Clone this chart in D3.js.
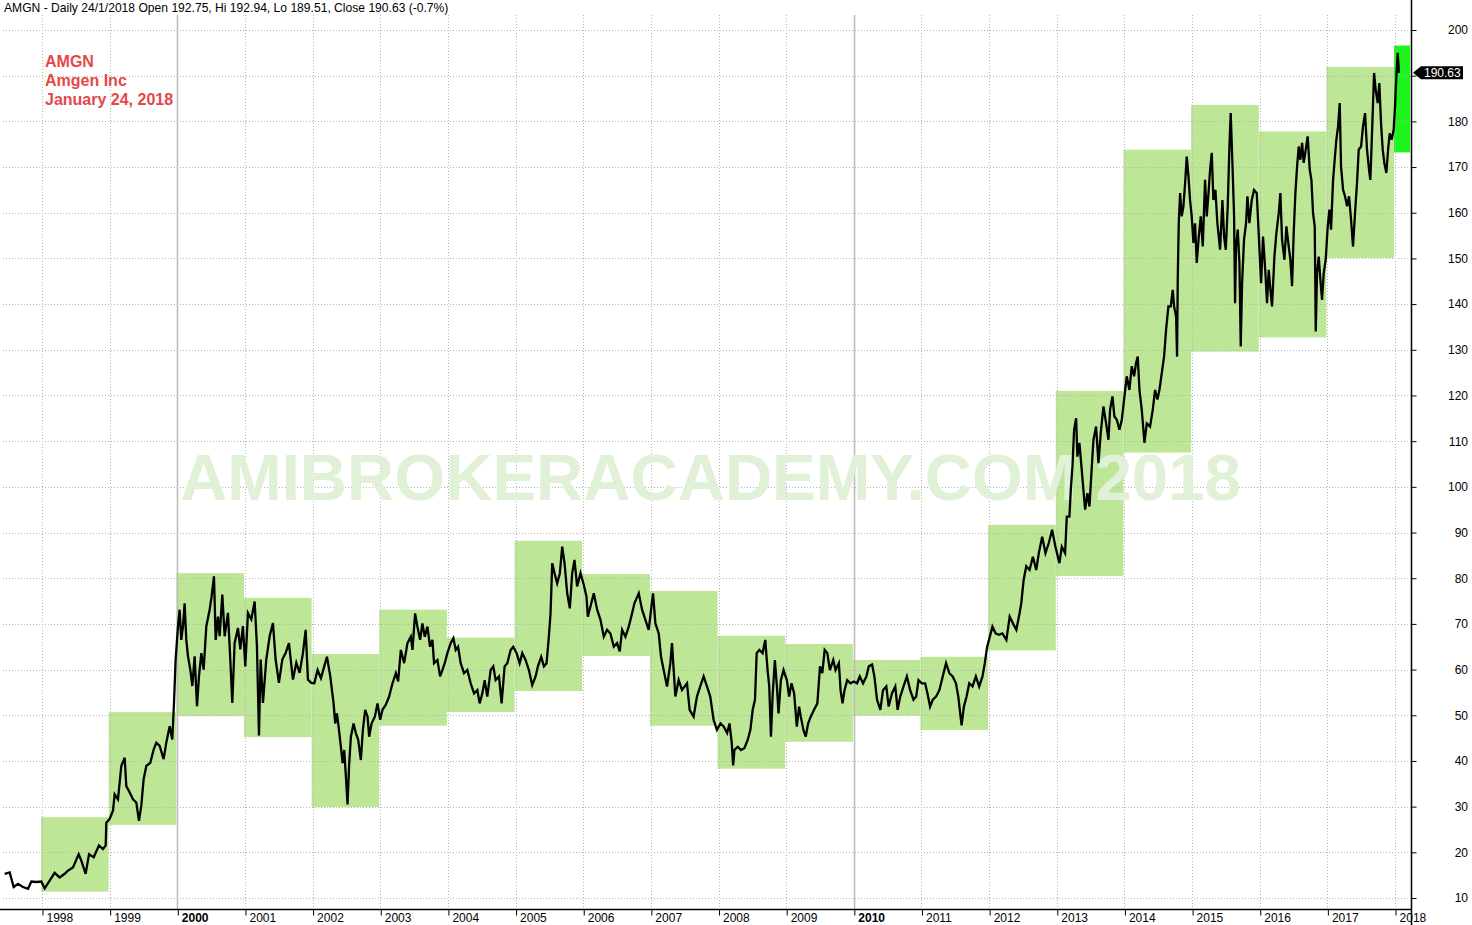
<!DOCTYPE html>
<html><head><meta charset="utf-8">
<script src="https://cdn.jsdelivr.net/npm/d3@7"></script>
<style>html,body{margin:0;padding:0;background:#fff;overflow:hidden}</style>
</head><body><svg id="c" width="1472" height="925"></svg>
<script>
const headerText = "AMGN - Daily 24/1/2018 Open 192.75, Hi 192.94, Lo 189.51, Close 190.63 (-0.7%)";
const titleLines = ["AMGN", "Amgen Inc", "January 24, 2018"];
const watermarkText = "AMIBROKERACADEMY.COM 2018";
const yearTicks = [1998,1999,2000,2001,2002,2003,2004,2005,2006,2007,2008,2009,2010,2011,2012,2013,2014,2015,2016,2017,2018];
const boldYears = [2000, 2010];
const priceTicks = [10,20,30,40,50,60,70,80,90,100,110,120,130,140,150,160,170,180,190,200];
const hiddenTickLabels = [190]; // covered by the last-price marker
const boxYears = [1998,1999,2000,2001,2002,2003,2004,2005,2006,2007,2008,2009,2010,2011,2012,2013,2014,2015,2016,2017,2018];
const boxHigh = [27.7,50.7,81.1,75.7,63.4,73.1,67.0,88.2,80.9,77.2,67.4,65.6,62.1,62.8,91.7,121.0,173.8,183.6,177.8,191.9,196.6];
const boxLow  = [11.4,26.0,49.8,45.2,29.9,47.7,50.7,55.3,63.0,47.7,38.3,44.2,49.9,46.8,64.2,80.5,107.5,129.6,132.7,150.1,173.2];
const lastClose = 190.63;
// [decimal year, close]
const priceSeries = [
[1997.448,15.3],[1997.522,15.6],[1997.581,12.4],[1997.645,13.1],[1997.719,12.4],[1997.793,12.0],[1997.842,13.6],[1997.916,13.5],[1997.990,13.6],
[1998.039,12.1],[1998.113,13.8],[1998.187,15.5],[1998.261,14.5],[1998.335,15.3],[1998.384,16.0],[1998.458,16.7],[1998.542,19.6],[1998.581,18.2],[1998.645,15.3],[1998.695,19.6],[1998.764,18.9],[1998.842,21.5],[1998.901,20.7],[1998.941,21.5],[1998.951,26.5],
[1999.000,27.3],[1999.049,29.1],[1999.074,32.7],[1999.123,31.6],[1999.172,38.9],[1999.222,40.7],[1999.246,34.5],[1999.296,33.1],[1999.345,31.6],[1999.394,30.9],[1999.433,26.9],[1999.468,30.2],[1999.502,36.0],[1999.542,38.9],[1999.601,39.6],[1999.650,42.5],[1999.690,44.0],[1999.739,43.3],[1999.798,40.4],[1999.837,44.0],[1999.887,47.6],[1999.926,44.7],[1999.951,52.7],[1999.975,62.2],
[2000.010,69.5],[2000.034,73.1],[2000.059,66.5],[2000.084,69.5],[2000.108,74.5],[2000.133,66.5],[2000.158,62.9],[2000.192,60.0],[2000.222,56.4],[2000.256,62.9],[2000.291,52.0],[2000.320,58.5],[2000.355,63.6],[2000.389,60.0],[2000.429,69.5],[2000.478,73.1],[2000.507,76.0],[2000.542,80.4],[2000.567,66.5],[2000.601,71.6],[2000.626,67.3],[2000.665,76.4],[2000.700,67.3],[2000.749,72.4],[2000.783,62.2],[2000.813,52.7],[2000.847,65.8],[2000.897,69.1],[2000.931,64.4],[2000.970,69.5],
[2001.005,60.7],[2001.044,72.4],[2001.094,71.0],[2001.143,74.9],[2001.177,65.1],[2001.207,45.6],[2001.232,62.2],[2001.266,52.7],[2001.315,62.2],[2001.365,67.3],[2001.414,70.2],[2001.453,62.2],[2001.502,57.1],[2001.552,62.2],[2001.601,63.6],[2001.650,65.8],[2001.709,57.8],[2001.759,61.5],[2001.808,59.3],[2001.857,63.6],[2001.897,68.7],[2001.931,57.8],[2001.980,57.1],
[2002.025,57.0],[2002.074,59.9],[2002.123,58.1],[2002.172,60.7],[2002.212,62.8],[2002.261,58.5],[2002.310,52.6],[2002.334,48.2],[2002.359,50.4],[2002.384,47.5],[2002.418,43.1],[2002.443,39.5],[2002.467,42.4],[2002.492,36.6],[2002.516,30.5],[2002.541,39.5],[2002.566,45.3],[2002.605,48.2],[2002.639,46.1],[2002.674,44.6],[2002.713,40.2],[2002.743,46.8],[2002.777,51.2],[2002.812,49.7],[2002.836,45.3],[2002.871,48.2],[2002.920,49.7],[2002.959,52.6],[2002.999,49.0],
[2003.033,51.2],[2003.082,52.3],[2003.131,54.1],[2003.181,57.0],[2003.230,59.2],[2003.264,57.4],[2003.304,64.3],[2003.353,61.4],[2003.402,65.8],[2003.451,67.2],[2003.476,64.3],[2003.515,72.3],[2003.549,69.4],[2003.589,66.5],[2003.623,70.1],[2003.658,67.2],[2003.697,69.4],[2003.736,65.0],[2003.771,66.5],[2003.795,61.4],[2003.845,62.1],[2003.884,58.5],[2003.918,59.9],[2003.953,61.4],[2003.992,63.6],
[2004.041,65.8],[2004.081,66.9],[2004.115,64.3],[2004.150,65.0],[2004.189,61.4],[2004.238,59.2],[2004.287,59.9],[2004.336,57.0],[2004.386,54.8],[2004.435,55.5],[2004.469,52.6],[2004.509,54.8],[2004.543,57.7],[2004.582,54.1],[2004.632,59.9],[2004.671,60.7],[2004.705,57.7],[2004.755,58.5],[2004.794,52.6],[2004.838,60.7],[2004.878,61.4],[2004.927,64.3],[2004.966,65.0],
[2005.015,63.6],[2005.060,61.4],[2005.099,63.6],[2005.148,62.1],[2005.197,59.9],[2005.246,56.6],[2005.296,58.5],[2005.330,60.7],[2005.379,62.8],[2005.419,60.7],[2005.458,61.4],[2005.492,67.2],[2005.517,72.3],[2005.542,83.3],[2005.576,81.1],[2005.615,78.9],[2005.655,81.1],[2005.689,86.9],[2005.724,83.3],[2005.763,76.7],[2005.802,73.4],[2005.837,81.1],[2005.871,84.0],[2005.910,78.2],[2005.960,81.1],
[2006.009,78.5],[2006.048,76.0],[2006.068,71.6],[2006.107,73.8],[2006.156,76.7],[2006.206,73.1],[2006.255,70.9],[2006.304,67.2],[2006.353,68.7],[2006.402,67.9],[2006.452,65.0],[2006.501,65.8],[2006.540,64.0],[2006.575,68.7],[2006.624,67.2],[2006.673,69.4],[2006.722,72.3],[2006.757,74.5],[2006.821,76.7],[2006.870,73.1],[2006.919,70.9],[2006.968,68.7],
[2007.003,73.1],[2007.032,76.7],[2007.067,70.1],[2007.116,67.9],[2007.150,62.8],[2007.189,59.9],[2007.239,56.3],[2007.288,61.4],[2007.312,65.8],[2007.362,54.1],[2007.411,57.7],[2007.460,55.5],[2007.534,57.0],[2007.573,51.2],[2007.632,49.7],[2007.681,54.1],[2007.730,56.3],[2007.780,58.5],[2007.829,56.3],[2007.878,54.1],[2007.927,49.0],[2007.976,46.8],
[2008.029,48.2],[2008.078,47.5],[2008.127,46.1],[2008.162,48.2],[2008.196,43.9],[2008.216,39.0],[2008.235,42.4],[2008.284,43.1],[2008.333,42.4],[2008.382,42.8],[2008.431,44.6],[2008.471,46.8],[2008.505,51.2],[2008.539,53.4],[2008.564,63.6],[2008.603,64.3],[2008.652,63.6],[2008.691,66.5],[2008.725,59.9],[2008.750,56.3],[2008.775,45.3],[2008.799,54.1],[2008.833,62.1],[2008.863,56.3],[2008.887,50.4],[2008.922,57.7],[2008.961,59.9],
[2009.010,57.7],[2009.044,54.1],[2009.078,57.0],[2009.118,54.8],[2009.157,47.5],[2009.191,51.9],[2009.216,49.7],[2009.255,46.8],[2009.289,45.3],[2009.324,48.2],[2009.363,49.7],[2009.412,51.2],[2009.461,52.6],[2009.500,60.7],[2009.534,59.2],[2009.569,64.3],[2009.608,63.6],[2009.647,59.9],[2009.696,62.1],[2009.730,59.9],[2009.779,61.4],[2009.804,55.5],[2009.833,52.6],[2009.863,55.5],[2009.902,57.7],[2009.951,57.0],
[2010.000,57.4],[2010.049,57.0],[2010.088,58.5],[2010.137,57.0],[2010.186,58.5],[2010.221,60.7],[2010.270,61.1],[2010.304,58.5],[2010.343,53.4],[2010.392,51.2],[2010.431,55.5],[2010.480,56.3],[2010.515,51.9],[2010.564,54.8],[2010.613,56.3],[2010.647,51.2],[2010.686,54.1],[2010.735,56.3],[2010.784,58.5],[2010.833,55.5],[2010.882,53.4],[2010.922,54.1],[2010.956,57.7],
[2011.005,57.0],[2011.054,57.0],[2011.088,54.8],[2011.127,51.9],[2011.167,53.4],[2011.216,54.1],[2011.265,55.5],[2011.314,58.5],[2011.363,61.4],[2011.412,59.2],[2011.461,58.5],[2011.510,57.0],[2011.544,54.1],[2011.593,47.8],[2011.627,51.9],[2011.667,54.1],[2011.706,57.0],[2011.755,56.3],[2011.804,58.5],[2011.853,56.3],[2011.902,58.5],[2011.936,61.4],[2011.971,65.0],
[2012.010,67.2],[2012.049,69.4],[2012.098,67.9],[2012.147,67.6],[2012.196,67.9],[2012.255,66.5],[2012.304,71.6],[2012.353,70.1],[2012.402,68.7],[2012.441,71.6],[2012.475,74.5],[2012.510,79.6],[2012.549,82.6],[2012.598,81.8],[2012.647,84.7],[2012.696,81.8],[2012.735,85.5],[2012.784,89.1],[2012.833,85.5],[2012.882,87.7],[2012.931,90.6],[2012.980,86.9],
[2013.039,83.3],[2013.074,86.9],[2013.123,85.5],[2013.148,93.5],[2013.187,93.5],[2013.207,99.3],[2013.232,104.5],[2013.256,112.5],[2013.286,115.0],[2013.305,106.6],[2013.335,109.6],[2013.369,103.7],[2013.394,99.3],[2013.419,95.0],[2013.453,98.6],[2013.483,95.7],[2013.512,103.0],[2013.542,110.3],[2013.581,113.2],[2013.616,105.2],[2013.650,111.8],[2013.690,117.6],[2013.729,113.9],[2013.764,110.3],[2013.788,116.9],[2013.823,119.8],[2013.852,115.4],[2013.887,114.7],[2013.926,112.5],[2013.961,114.7],[2013.995,119.1],
[2014.034,124.2],[2014.074,121.2],[2014.108,126.4],[2014.143,124.2],[2014.172,127.1],[2014.197,128.5],[2014.222,121.2],[2014.256,116.9],[2014.296,109.6],[2014.330,113.9],[2014.379,113.2],[2014.419,116.9],[2014.453,121.2],[2014.488,119.1],[2014.517,121.2],[2014.552,124.9],[2014.586,128.5],[2014.616,134.4],[2014.650,139.5],[2014.685,139.5],[2014.714,143.1],[2014.734,139.5],[2014.764,137.3],[2014.778,128.5],[2014.788,145.3],[2014.803,157.7],[2014.823,164.3],[2014.847,159.2],[2014.872,161.4],[2014.897,166.5],[2014.921,172.3],[2014.946,168.0],[2014.970,162.8],[2014.995,159.2],
[2015.020,153.4],[2015.044,157.7],[2015.069,149.0],[2015.099,154.8],[2015.128,159.2],[2015.158,152.6],[2015.192,167.2],[2015.217,159.2],[2015.246,165.0],[2015.266,169.4],[2015.291,173.1],[2015.315,162.8],[2015.345,165.0],[2015.374,157.7],[2015.414,151.9],[2015.448,162.8],[2015.473,154.8],[2015.498,151.9],[2015.527,161.4],[2015.552,174.5],[2015.571,181.8],[2015.596,170.9],[2015.621,159.2],[2015.635,140.2],[2015.650,152.6],[2015.675,156.3],[2015.700,149.0],[2015.719,130.7],[2015.739,144.6],[2015.768,154.1],[2015.798,157.7],[2015.818,163.6],[2015.847,157.7],[2015.882,162.8],[2015.916,165.0],[2015.956,164.3],
[2016.020,144.6],[2016.049,154.8],[2016.084,146.8],[2016.108,140.2],[2016.133,147.5],[2016.158,143.1],[2016.182,139.5],[2016.217,150.4],[2016.246,155.5],[2016.281,159.9],[2016.305,164.3],[2016.330,154.1],[2016.365,149.7],[2016.394,157.0],[2016.429,152.6],[2016.453,149.7],[2016.478,143.9],[2016.502,155.5],[2016.527,164.3],[2016.552,170.1],[2016.576,174.5],[2016.601,171.6],[2016.626,175.3],[2016.650,170.9],[2016.680,173.8],[2016.709,176.7],[2016.739,169.4],[2016.764,167.2],[2016.788,159.9],[2016.813,157.0],[2016.828,134.0],[2016.847,146.8],[2016.872,150.4],[2016.897,145.3],[2016.921,140.9],[2016.946,146.8],[2016.975,149.7],
[2017.005,157.0],[2017.030,160.7],[2017.054,156.3],[2017.084,167.2],[2017.108,171.6],[2017.133,176.0],[2017.158,178.9],[2017.182,184.0],[2017.202,170.1],[2017.232,165.0],[2017.261,163.6],[2017.291,161.4],[2017.320,163.6],[2017.350,158.5],[2017.379,152.6],[2017.409,160.0],[2017.438,166.5],[2017.463,173.8],[2017.498,174.5],[2017.527,178.9],[2017.557,181.8],[2017.586,173.8],[2017.616,169.4],[2017.635,167.2],[2017.665,179.6],[2017.690,190.6],[2017.714,186.9],[2017.744,184.0],[2017.768,188.4],[2017.793,179.6],[2017.818,173.8],[2017.842,170.9],[2017.872,168.7],[2017.897,173.8],[2017.921,177.4],[2017.951,176.0],[2017.980,178.2],
[2018.000,183.3],[2018.020,189.9],[2018.039,195.0],[2018.059,190.63]
];

const W = 1472, H = 925;
const plotRight = 1411, axisY = 909, gridTop = 15;
const FONT = "'Liberation Sans', Arial, sans-serif";
const x = d3.scaleLinear().domain([1997.379, 2018.236]).range([0, plotRight]);
const y = d3.scaleLinear().domain([10, 200]).range([898, 30]);

const svg = d3.select("#c").style("font-family", FONT);

// yearly range boxes
const boxes = boxYears.map((yr, i) => ({yr, hi: boxHigh[i], lo: boxLow[i]}));
svg.append("g").selectAll("rect").data(boxes).join("rect")
  .attr("x", d => x(d.yr) - 1)
  .attr("width", d => Math.min(x(d.yr + 1) - 1, plotRight - 1) - (x(d.yr) - 1))
  .attr("y", d => y(d.hi))
  .attr("height", d => y(d.lo) - y(d.hi))
  .attr("fill", (d, i) => i === boxes.length - 1 ? "#1ef51e" : "#bde697");

// grid
const grid = svg.append("g");
grid.selectAll("line.h").data(priceTicks).join("line")
  .attr("x1", 3).attr("x2", plotRight)
  .attr("y1", d => Math.round(y(d)) + 0.5).attr("y2", d => Math.round(y(d)) + 0.5)
  .attr("stroke", "#b4b4b4").attr("stroke-width", 1).attr("stroke-dasharray", "1,2");
grid.selectAll("line.v").data(yearTicks).join("line")
  .attr("x1", d => Math.round(x(d)) + 0.5).attr("x2", d => Math.round(x(d)) + 0.5)
  .attr("y1", gridTop).attr("y2", axisY)
  .attr("stroke", d => boldYears.includes(d) ? "#bdbdbd" : "#b4b4b4")
  .attr("stroke-width", d => boldYears.includes(d) ? 1.6 : 1)
  .attr("stroke-dasharray", d => boldYears.includes(d) ? null : "1,2");

// watermark
svg.append("text").attr("x", 180).attr("y", 500)
  .attr("font-size", 65.4).attr("font-weight", "bold")
  .attr("fill", "#e0f1d7").text(watermarkText);

// price line
const line = d3.line().x(d => x(d[0])).y(d => y(d[1]));
svg.append("path").datum(priceSeries).attr("d", line)
  .attr("fill", "none").attr("stroke", "#000").attr("stroke-width", 2.3)
  .attr("stroke-linejoin", "miter");

// header
svg.append("text").attr("x", 4).attr("y", 12).attr("font-size", 12.1).attr("fill", "#000").text(headerText);

// red title
svg.append("g").selectAll("text").data(titleLines).join("text")
  .attr("x", 45).attr("y", (d, i) => 67 + i * 19)
  .attr("font-size", 16).attr("font-weight", "bold").attr("fill", "#e54848")
  .text(d => d);

// y axis (right)
const yAxis = d3.axisRight(y).tickValues(priceTicks).tickSize(5).tickSizeOuter(0)
  .tickFormat(d => hiddenTickLabels.includes(d) ? "" : d);
const gy = svg.append("g").attr("transform", `translate(${plotRight + 0.5},0)`).call(yAxis);
gy.select(".domain").remove();
gy.selectAll("text").attr("x", 56.5).attr("text-anchor", "end").attr("font-size", 12)
  .attr("font-family", FONT).attr("fill", "#000");
gy.selectAll("line").attr("stroke", "#000");
svg.append("line").attr("x1", plotRight + 0.5).attr("x2", plotRight + 0.5)
  .attr("y1", 0).attr("y2", H).attr("stroke", "#000").attr("stroke-width", 1.5);

// x axis (bottom)
const xAxis = d3.axisBottom(x).tickValues(yearTicks).tickSize(6).tickSizeOuter(0).tickFormat(d3.format("d"));
const gx = svg.append("g").attr("transform", `translate(0,${axisY + 0.5})`).call(xAxis);
gx.select(".domain").remove();
gx.selectAll(".tick line").attr("stroke", "#000").attr("transform", "translate(0.5,0)");
gx.selectAll("text").attr("text-anchor", "start").attr("x", 4).attr("y", 12).attr("dy", 0)
  .attr("font-size", 12).attr("font-family", FONT).attr("fill", "#000")
  .attr("font-weight", d => boldYears.includes(d) ? "bold" : "normal");
svg.append("line").attr("x1", 0).attr("x2", plotRight).attr("y1", axisY + 0.5).attr("y2", axisY + 0.5)
  .attr("stroke", "#000").attr("stroke-width", 1.5);

// last price marker
const ly = y(lastClose);
svg.append("path")
  .attr("d", `M${plotRight + 2},${ly} L${plotRight + 10},${ly - 6.5} L${plotRight + 52},${ly - 6.5} L${plotRight + 52},${ly + 6.5} L${plotRight + 10},${ly + 6.5} Z`)
  .attr("fill", "#000");
svg.append("text").attr("x", plotRight + 13).attr("y", ly).attr("dy", "0.35em")
  .attr("font-size", 12).attr("fill", "#fff").text(lastClose.toFixed(2));
</script>
</body></html>
